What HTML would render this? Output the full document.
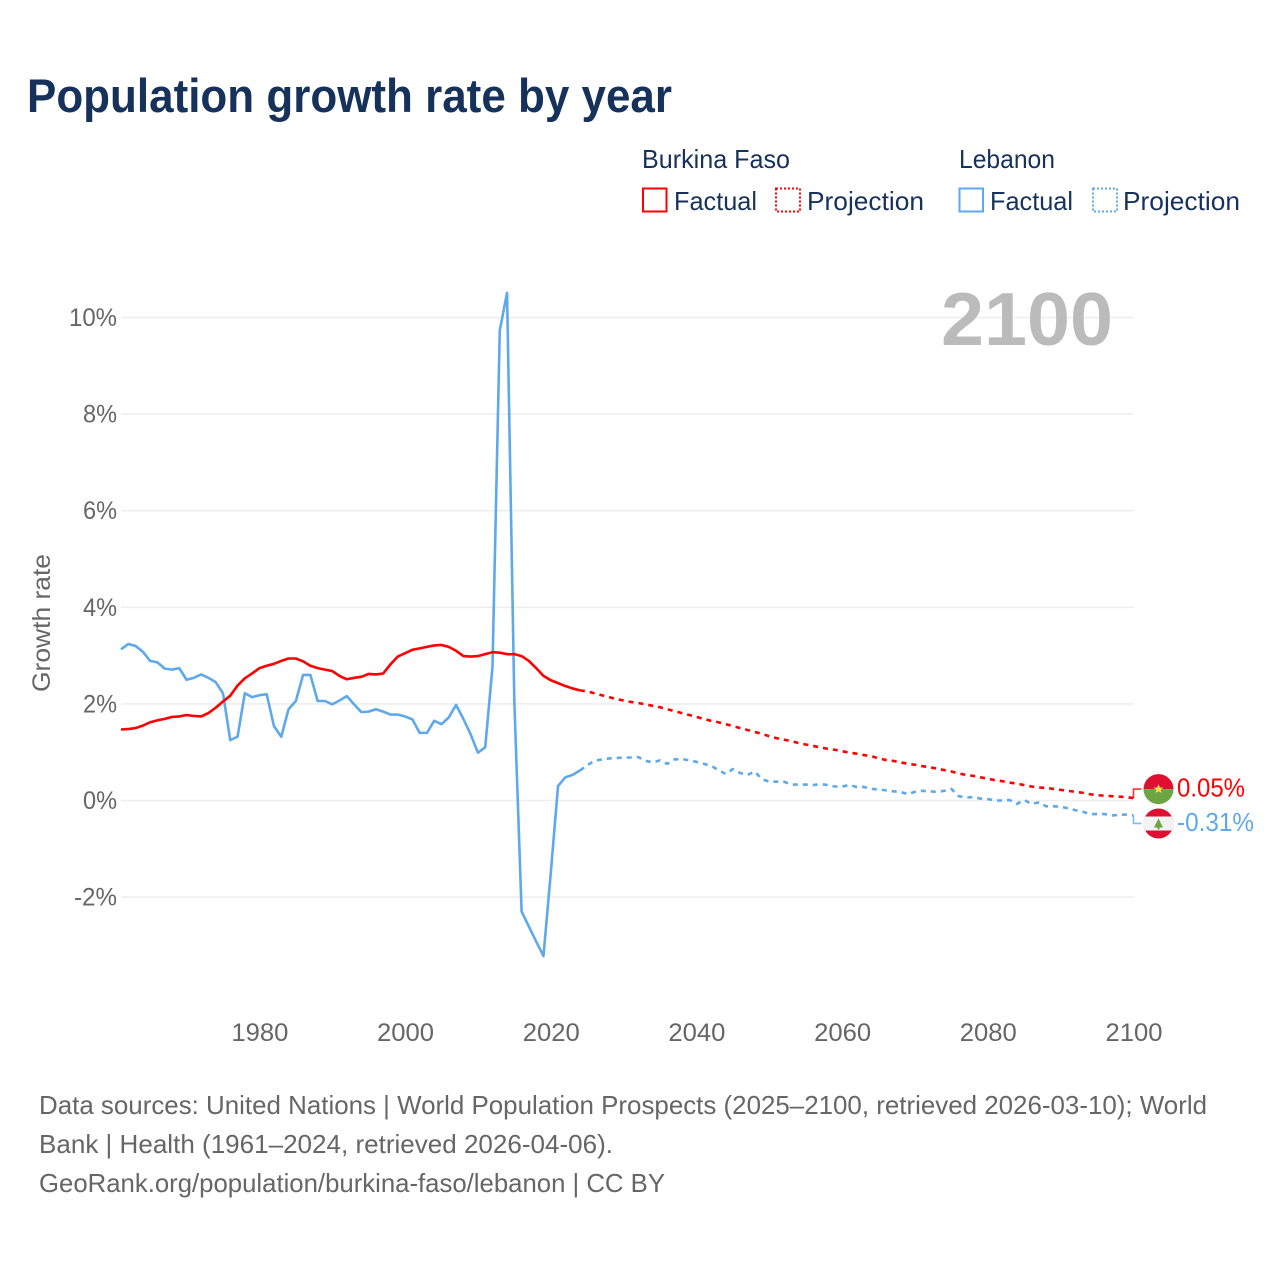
<!DOCTYPE html>
<html lang="en">
<head>
<meta charset="utf-8">
<title>Population growth rate by year</title>
<style>
html,body{margin:0;padding:0;background:#fff;}
svg{display:block;font-family:"Liberation Sans",sans-serif;}
.dark{fill:#17325a;}
.grey{fill:#666;}
</style>
</head>
<body>
<svg id="chart" width="1280" height="1280" viewBox="0 0 1280 1280" xmlns="http://www.w3.org/2000/svg">
  <text x="27" y="112" font-size="47" font-weight="700" class="dark" textLength="645" lengthAdjust="spacingAndGlyphs">Population growth rate by year</text>

  <g>
    <text x="642" y="168" font-size="26" class="dark" textLength="148" lengthAdjust="spacingAndGlyphs">Burkina Faso</text>
    <text x="959" y="168" font-size="26" class="dark" textLength="96" lengthAdjust="spacingAndGlyphs">Lebanon</text>
    <g>
      <rect x="643" y="188.500" width="23.500" height="23" fill="none" stroke="#ff0000" stroke-width="2"/>
      <text x="674" y="210" font-size="26" class="dark" textLength="83" lengthAdjust="spacingAndGlyphs">Factual</text>
    </g>
    <g>
      <rect x="776" y="188.500" width="24" height="23" fill="none" stroke="#ff0000" stroke-width="2" stroke-dasharray="2 2"/>
      <text x="807" y="210" font-size="26" class="dark" textLength="117" lengthAdjust="spacingAndGlyphs">Projection</text>
    </g>
    <g>
      <rect x="959.500" y="188.500" width="23.500" height="23" fill="none" stroke="#5ea8ec" stroke-width="2"/>
      <text x="990" y="210" font-size="26" class="dark" textLength="83" lengthAdjust="spacingAndGlyphs">Factual</text>
    </g>
    <g>
      <rect x="1093" y="188.500" width="24" height="23" fill="none" stroke="#5ea8ec" stroke-width="2" stroke-dasharray="2 2"/>
      <text x="1123" y="210" font-size="26" class="dark" textLength="117" lengthAdjust="spacingAndGlyphs">Projection</text>
    </g>
  </g>

  <g id="grid"></g>
  <g id="yticks"></g>
  <g id="xticks"></g>

  <text transform="translate(50,692) rotate(-90)" font-size="25" class="grey" textLength="138" lengthAdjust="spacingAndGlyphs">Growth rate</text>

  <text x="941" y="345" font-size="75" font-weight="700" fill="#bbbbbb" textLength="172" lengthAdjust="spacingAndGlyphs">2100</text>

  <g id="series"></g>
  <g id="ends"></g>

  <g>
    <text x="39" y="1114" font-size="26" class="grey" textLength="1168" lengthAdjust="spacingAndGlyphs">Data sources: United Nations | World Population Prospects (2025–2100, retrieved 2026-03-10); World</text>
    <text x="39" y="1153" font-size="26" class="grey" textLength="574" lengthAdjust="spacingAndGlyphs">Bank | Health (1961–2024, retrieved 2026-04-06).</text>
    <text x="39" y="1192" font-size="26" class="grey" textLength="626" lengthAdjust="spacingAndGlyphs">GeoRank.org/population/burkina-faso/lebanon | CC BY</text>
  </g>
</svg>

<script>
const factualStartYear = 1961;
const projectionStartYear = 2024;
const burkinaFactual = [1.47,1.48,1.50,1.55,1.62,1.66,1.69,1.73,1.74,1.77,1.75,1.74,1.81,1.92,2.05,2.17,2.38,2.53,2.63,2.74,2.79,2.83,2.89,2.94,2.94,2.88,2.79,2.74,2.71,2.68,2.58,2.51,2.54,2.56,2.62,2.61,2.63,2.82,2.98,3.05,3.12,3.15,3.18,3.21,3.22,3.18,3.10,2.99,2.98,2.99,3.03,3.07,3.06,3.03,3.03,2.99,2.89,2.74,2.58,2.49,2.43,2.37,2.32,2.28];
const lebanonFactual = [3.13,3.24,3.20,3.08,2.89,2.86,2.73,2.71,2.74,2.50,2.54,2.61,2.54,2.45,2.22,1.25,1.32,2.22,2.14,2.18,2.20,1.54,1.32,1.89,2.06,2.60,2.60,2.06,2.06,1.99,2.07,2.16,1.99,1.83,1.84,1.89,1.84,1.78,1.78,1.74,1.68,1.40,1.40,1.65,1.58,1.72,1.98,1.69,1.37,0.99,1.10,2.77,9.73,10.51,2.05,-2.30,-2.61,-2.92,-3.22,-1.50,0.30,0.48,0.53,0.62];
const burkinaProjection = [2.28,2.26,2.22,2.18,2.14,2.10,2.07,2.04,2.02,1.99,1.96,1.93,1.89,1.85,1.81,1.77,1.73,1.69,1.65,1.62,1.58,1.54,1.50,1.46,1.42,1.38,1.33,1.29,1.26,1.23,1.19,1.16,1.13,1.10,1.07,1.05,1.02,0.99,0.97,0.94,0.92,0.87,0.84,0.82,0.79,0.76,0.74,0.71,0.69,0.66,0.63,0.60,0.56,0.53,0.51,0.48,0.45,0.42,0.40,0.37,0.35,0.32,0.29,0.27,0.26,0.24,0.22,0.20,0.18,0.16,0.13,0.11,0.10,0.09,0.08,0.07,0.05];
const lebanonProjection = [0.62,0.73,0.82,0.85,0.87,0.88,0.89,0.89,0.90,0.82,0.79,0.83,0.76,0.85,0.86,0.83,0.80,0.76,0.72,0.63,0.55,0.65,0.57,0.53,0.60,0.44,0.39,0.39,0.39,0.33,0.33,0.33,0.32,0.34,0.32,0.29,0.29,0.32,0.28,0.28,0.24,0.23,0.21,0.19,0.18,0.13,0.18,0.20,0.19,0.18,0.20,0.24,0.09,0.06,0.07,0.04,0.03,0.00,0.00,0.01,-0.07,0.01,-0.07,-0.04,-0.12,-0.12,-0.13,-0.16,-0.20,-0.23,-0.28,-0.28,-0.28,-0.31,-0.30,-0.29,-0.31];
const yTickValues = [10,8,6,4,2,0,-2];
const yTickLabels = ["10%","8%","6%","4%","2%","0%","-2%"];
const xTickValues = [1980,2000,2020,2040,2060,2080,2100];
const xTickLabels = ["1980","2000","2020","2040","2060","2080","2100"];
const endLabels = ["0.05%","-0.31%"];

const NS = "http://www.w3.org/2000/svg";
function xScale(year){ return 121 + (year - 1961) * 7.284; }
function yScale(v){ return 800.5 - v * 48.3; }
function make(parent, tag, attrs, text){
  const el = document.createElementNS(NS, tag);
  for (const k in attrs) el.setAttribute(k, attrs[k]);
  if (text !== undefined) el.textContent = text;
  parent.appendChild(el);
  return el;
}
function linePath(values, startYear){
  return values.map((v,i)=>(i?"L":"M")+xScale(startYear+i).toFixed(2)+" "+yScale(v).toFixed(2)).join(" ");
}

const grid = document.getElementById("grid");
const yticks = document.getElementById("yticks");
const xticks = document.getElementById("xticks");
const seriesG = document.getElementById("series");
const ends = document.getElementById("ends");

yTickValues.forEach((v,i)=>{
  const line = make(grid,"line",{x1:xScale(1961),x2:xScale(2100),y1:yScale(v),y2:yScale(v),stroke:"#eeeeee","stroke-width":1.6});
  
  
  const label = yTickLabels[i];
  const t = make(yticks,"text",{x:117,y:yScale(v)+8.5,"text-anchor":"end","font-size":25,class:"grey",
    textLength:label==="10%"?48:(label==="-2%"?43:34),lengthAdjust:"spacingAndGlyphs"},label);
  
  
});
xTickValues.forEach((yr,i)=>{
  const t = make(xticks,"text",{x:xScale(yr)+0.5,y:1041,"text-anchor":"middle","font-size":25,class:"grey",
    textLength:57,lengthAdjust:"spacingAndGlyphs"},xTickLabels[i]);
  
  
});

const RED = "#ff0000", BLUE = "#5ea8ec";
const lebF = make(seriesG,"path",{d:linePath(lebanonFactual,factualStartYear),fill:"none",stroke:BLUE,"stroke-width":2.6,"stroke-linejoin":"round"});


const lebP = make(seriesG,"path",{d:linePath(lebanonProjection,projectionStartYear),fill:"none",stroke:BLUE,"stroke-width":2.6,"stroke-dasharray":"5 5"});


const burF = make(seriesG,"path",{d:linePath(burkinaFactual,factualStartYear),fill:"none",stroke:RED,"stroke-width":2.6,"stroke-linejoin":"round"});


const burP = make(seriesG,"path",{d:linePath(burkinaProjection,projectionStartYear),fill:"none",stroke:RED,"stroke-width":2.6,"stroke-dasharray":"5 5"});



/* end markers: anchored on the last data value, nudged apart like the original */
const endX = xScale(2100);
const burLast = burkinaProjection[burkinaProjection.length-1];
const lebLast = lebanonProjection[lebanonProjection.length-1];
const burY = yScale(burLast) - 9;
const lebY = yScale(lebLast) + 8;
const cx = 1158.5;

const c1 = make(ends,"path",{d:`M${endX} ${yScale(burLast)} V${burY} H${endX+8}`,fill:"none",stroke:RED,"stroke-width":1.6,opacity:0.8});


const c2 = make(ends,"path",{d:`M${endX} ${yScale(lebLast)} V${lebY} H${endX+8}`,fill:"none",stroke:BLUE,"stroke-width":1.6,opacity:0.8});



const f1 = make(ends,"g",{transform:`translate(${cx},${burY})`});


make(f1,"path",{d:"M-15 0A15 15 0 0 1 15 0Z",fill:"#de0f30"});
make(f1,"path",{d:"M-15 0A15 15 0 0 0 15 0Z",fill:"#6da544"});
make(f1,"polygon",{points:"0,-5 1.4,-1.6 5,-1.5 2.2,0.7 3.2,4.1 0,2.2 -3.2,4.1 -2.2,0.7 -5,-1.5 -1.4,-1.6",fill:"#ffda44"});

const f2 = make(ends,"g",{transform:`translate(${cx},${lebY})`});


make(f2,"circle",{cx:0,cy:0,r:15,fill:"#de0f30"});
make(f2,"path",{d:"M-13.3 -7H13.3A15 15 0 0 1 13.3 7H-13.3A15 15 0 0 1 -13.3 -7Z",fill:"#f2f2f2"});
make(f2,"polygon",{points:"0,-5 4.5,4 1,4 1,6 -1,6 -1,4 -4.5,4",fill:"#6da544"});

const l1 = make(ends,"text",{x:1177,y:burY+7.5,"font-size":26,fill:RED,textLength:68,lengthAdjust:"spacingAndGlyphs"},endLabels[0]);


const l2 = make(ends,"text",{x:1177,y:lebY+7.5,"font-size":26,fill:BLUE,textLength:77,lengthAdjust:"spacingAndGlyphs"},endLabels[1]);


</script>
</body>
</html>
